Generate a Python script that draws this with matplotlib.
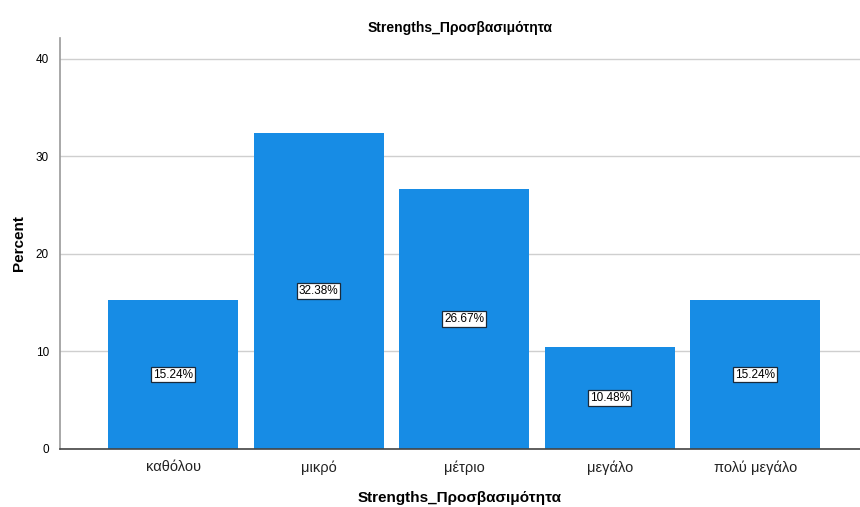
import matplotlib
matplotlib.use("Agg")
import matplotlib.pyplot as plt

categories = ["καθόλου", "μικρό", "μέτριο", "μεγάλο", "πολύ μεγάλο"]
percents = [15.24, 32.38, 26.67, 10.48, 15.24]
yticks = [0, 10, 20, 30, 40]
title = "Strengths_Προσβασιμότητα"

plt.rcParams['font.family'] = ['Liberation Sans', 'DejaVu Sans']

fig = plt.figure(figsize=(8.6, 5.07), dpi=100)
ax = fig.add_axes([0.0698, 0.1144, 0.9302, 0.8106])

x = list(range(len(categories)))
ax.bar(x, percents, width=0.893, color='#178CE5', zorder=2)
for xi, v in zip(x, percents):
    ax.text(xi, v / 2, f"{v:.2f}%", ha='center', va='center', fontsize=8.5, zorder=3,
            bbox=dict(boxstyle='square,pad=0.15', facecolor='white', edgecolor='#1a2a3a', linewidth=0.9))

ax.set_xlim(-0.777, 4.72)
ax.set_ylim(0, 42.15)
ax.set_yticks(yticks)
ax.set_yticklabels([str(t) for t in yticks], fontsize=8.5)
ax.set_xticks(x)
ax.set_xticklabels(categories, fontsize=10.5, color='#222222')
ax.tick_params(axis='both', length=0, pad=8)
ax.tick_params(axis='x', pad=8)
ax.yaxis.grid(True, color='#cfcfcf', linewidth=1, zorder=0)
ax.set_axisbelow(True)
for s in ['top', 'right']:
    ax.spines[s].set_visible(False)
ax.spines['left'].set_color('#999999')
ax.spines['bottom'].set_color('#444444')
ax.spines['left'].set_linewidth(1.2)
ax.spines['bottom'].set_linewidth(1.2)

ax.set_title(title, fontsize=10, fontweight='bold', pad=4)
ax.set_xlabel(title, fontsize=11, fontweight='bold', labelpad=12)
ax.set_ylabel("Percent", fontsize=11, fontweight='bold')
ax.yaxis.set_label_coords(-0.0425, 0.5)

fig.savefig("out.png", dpi=100)
